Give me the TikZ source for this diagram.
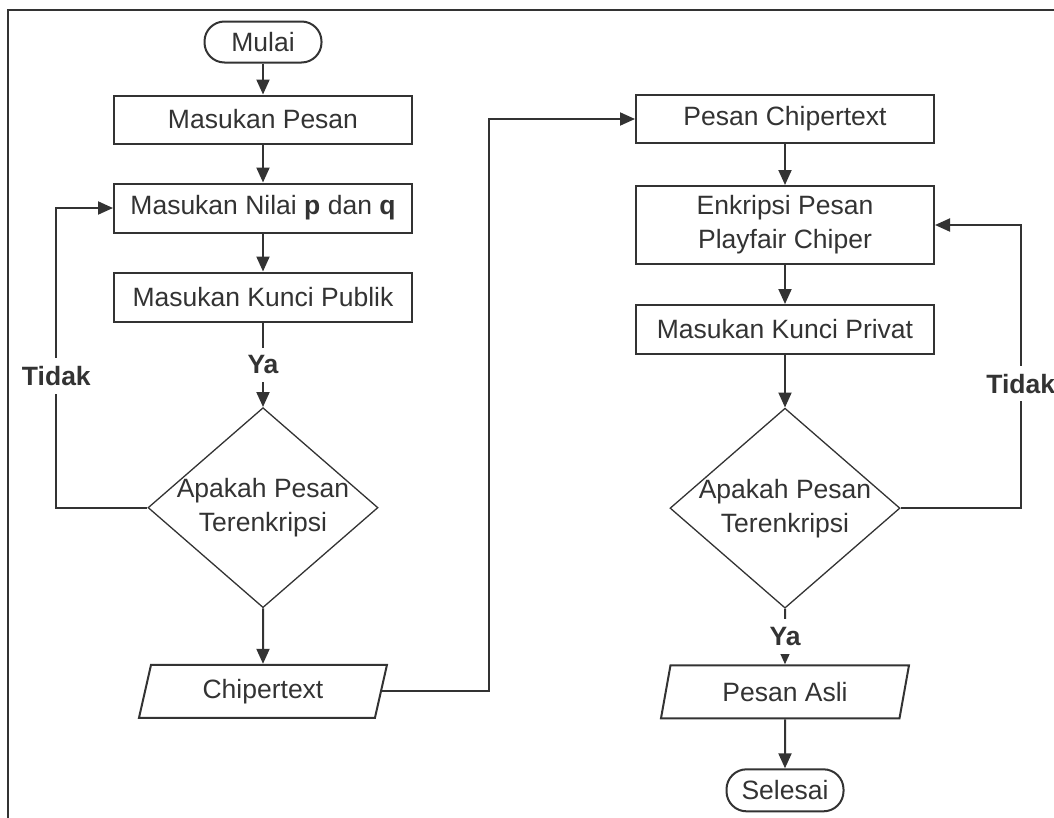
\documentclass[tikz,border=0pt]{standalone}
\usepackage{fontspec}
\setmainfont{Liberation Sans}
\usetikzlibrary{positioning}
\usetikzlibrary{arrows.meta, shapes.geometric}

\begin{document}
\begin{tikzpicture}[
            x = 1pt, y = -1pt, % pixel units, y going down
            > = {Triangle[length=15pt, width=13pt]}, % arrow head style
            line width = 2pt,
            color = black!80,
            font = \fontsize{26.5pt}{34pt}\selectfont,
            proses/.style = {rectangle, draw, minimum width = 298pt, minimum height = 48pt, align = center},
            terminal/.style = {rectangle, draw, rounded corners = 20pt, minimum width = 117pt, minimum height = 41pt, inner sep = 0pt},
            keputusan/.style = {diamond, draw, line width = 1.3pt, shape aspect = 1.15, minimum width = 230pt, minimum height = 200pt, inner sep = -10pt, align = center},
            datanode/.style = {trapezium, draw, trapezium left angle = 64, trapezium right angle = 116, trapezium stretches body, minimum width = 248pt, minimum height = 53pt, inner sep = 0pt},
            jawab/.style = {fill = white, font = \fontsize{26.5pt}{34pt}\selectfont\bfseries, inner xsep = 2pt, inner ysep = 8pt}
        ]

        \useasboundingbox (0, 0) rectangle (1054, 817);

        % frame
        \draw[line width = 2.5pt] (8, 840) |- (1080, 10);

        % left column
        \node[terminal] (mulai) at (263, 42) {Mulai};
        \node[proses] (pesan) [below = 31pt of mulai] {Masukan Pesan};
        \node[proses, minimum height = 49pt] (nilai) [below = 38pt of pesan] {Masukan Nilai \textbf{p} dan \textbf{q}};
        \node[proses, minimum height = 49pt] (publik) [below = 38pt of nilai] {Masukan Kunci Publik};
        \node[keputusan] (cek1) [below = 84.5pt of publik] {Apakah Pesan\\Terenkripsi};
        \node[datanode] (cipher) [below = 55.5pt of cek1] {Chipertext};

        % right column
        \node[proses] (pesanc) at (785, 119) {Pesan Chipertext};
        \node[proses, minimum height = 78pt] (enkripsi) [below = 41pt of pesanc] {Enkripsi Pesan\\Playfair Chiper};
        \node[proses, minimum height = 49pt] (privat) [below = 39pt of enkripsi] {Masukan Kunci Privat};
        \node[keputusan] (cek2) [below = 52.5pt of privat] {Apakah Pesan\\Terenkripsi};
        \node[datanode] (asli) [below = 55.5pt of cek2] {Pesan Asli};
        \node[terminal, minimum height = 42pt] (selesai) [below = 49pt of asli] {Selesai};

        \path[->]
            (mulai)    edge (pesan)
            (pesan)    edge (nilai)
            (nilai)    edge (publik)
            (publik)   edge node[jawab] {Ya} (cek1)
            (cek1)     edge (cipher)
            (pesanc)   edge (enkripsi)
            (enkripsi) edge (privat)
            (privat)   edge (cek2)
            (cek2)     edge node[jawab] {Ya} (asli)
            (asli)     edge (selesai);

        \draw[->] (cek1.west) -- ++(-91, 0) |- node[jawab, pos = 0.22] {Tidak} (nilai.west);
        \draw[->] (cek2.east) -- ++(120, 0) |- node[jawab, pos = 0.22] {Tidak} (enkripsi.east);
        \draw[->] (cipher.east) -- ++(107, 0) |- (pesanc.west);

\end{tikzpicture}
\end{document}
